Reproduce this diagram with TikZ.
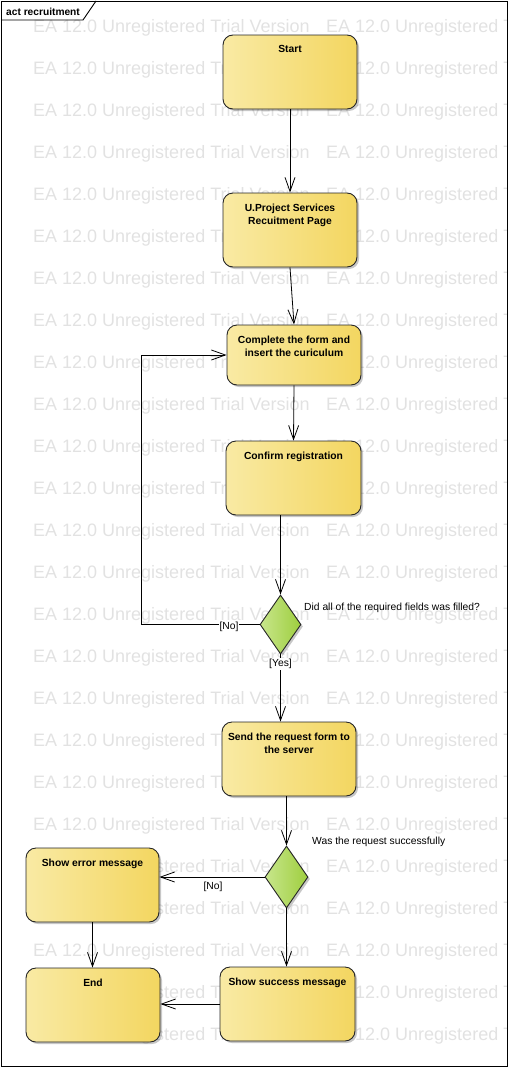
\documentclass[tikz,border=0pt]{standalone}
\usepackage{fontspec}
\setmainfont{Liberation Sans}
\usetikzlibrary{arrows.meta,shapes.geometric,shadows,calc}
\definecolor{ylL}{RGB}{249,234,164}
\definecolor{ylR}{RGB}{243,214,96}
\definecolor{grL}{RGB}{200,230,140}
\definecolor{grR}{RGB}{158,206,62}
\definecolor{wmgray}{RGB}{226,226,226}
\begin{document}
\begin{tikzpicture}[x=1pt,y=-1pt,
  act/.style={rectangle, rounded corners=10pt, draw=black!85, line width=0.9pt,
    left color=ylL, right color=ylR, minimum width=134pt, minimum height=74pt, inner sep=0pt,
    drop shadow={shadow xshift=2pt, shadow yshift=-2pt, opacity=0.22, fill=black}},
  dec/.style={diamond, draw=black!85, line width=0.9pt, left color=grL, right color=grR,
    inner sep=0pt, minimum width=41pt, minimum height=59pt,
    drop shadow={shadow xshift=2pt, shadow yshift=-2pt, opacity=0.22, fill=black}},
  lbl/.style={anchor=north, yshift=-11pt, inner sep=0pt, align=center,
    font=\fontsize{10.3}{13}\selectfont\bfseries},
  note/.style={inner sep=0pt, font=\fontsize{10.3}{12}\selectfont},
  arr/.style={draw=black, line width=0.8pt, -{Straight Barb[length=14pt,width=10pt]}},
  wm/.style={anchor=base west, inner sep=0pt, text=wmgray, font=\fontsize{18}{20}\selectfont},
]
\useasboundingbox (0,0) rectangle (508,1068);

% watermark
\begin{scope}
\clip (1,1) rectangle (507,1066);
\foreach \r in {0,...,24}{
  \node[wm] (wmA\r) at (33,{32+42*\r}) {EA 12.0 Unregistered Trial Version};
  \node[wm] (wmB\r) at (326,{32+42*\r}) {EA 12.0 Unregistered Trial Version};
}
\end{scope}

% frame
\node[draw=black, line width=0.9pt, minimum width=506pt, minimum height=1065pt,
  anchor=north west, inner sep=0pt] (frame) at (1,1) {};
\coordinate (tabA) at (1,20);
\coordinate (tabB) at (83,20);
\coordinate (tabC) at (96,1);
\draw[line width=0.9pt] (tabA) -- (tabB) -- (tabC);
\node[anchor=base west, inner sep=0pt, font=\fontsize{10.2}{12}\selectfont\bfseries] (title) at (6,15) {act recruitment};

% nodes
\node[act, label={[lbl]north:Start}] (start) at (290,72) {};
\node[act, label={[lbl]north:{U.Project Services\\Recuitment Page}}] (upj) at (290,230) {};
\node[act, minimum height=60pt, label={[lbl]north:{Complete the form and\\insert the curiculum}}] (complete) at (294,355) {};
\node[act, minimum width=135pt, label={[lbl]north:Confirm registration}] (confirm) at (293.5,478) {};
\node[dec] (d1) at (280.5,624.5) {};
\node[act, label={[lbl]north:{Send the request form to\\the server}}] (send) at (289,759) {};
\node[dec, minimum width=43pt, minimum height=62pt] (d2) at (286.5,877) {};
\node[act, minimum width=133pt, label={[lbl]north:Show error message}] (error) at (92.5,885) {};
\node[act, label={[lbl]north:End}] (endn) at (93,1005) {};
\node[act, minimum width=135pt, label={[lbl]north:Show success message}] (success) at (287.5,1004) {};

\node[note, anchor=west] (q1) at (304,608) {Did all of the required fields was filled?};
\node[note, anchor=west] (q2) at (312,842) {Was the request successfully};

% connectors
\draw[arr] (start.south) -- (upj.north);
\draw[arr] (upj.south) -- (complete.north);
\draw[arr] (complete.south) -- (confirm.north);
\draw[arr] (d1.north |- confirm.south) -- (d1.north);
\coordinate (loopx) at (141,355);
\draw[arr] (d1.west) -| (loopx) -- (complete.west);
\draw[arr] (d1.south) -- (d1.south |- send.north);
\draw[arr] (d2.north |- send.south) -- (d2.north);
\draw[arr] (d2.west) -- (d2.west -| error.east);
\draw[arr] (d2.south) -- (d2.south |- success.north);
\draw[arr] (error.south) -- (error.south |- endn.north);
\draw[arr] (success.west) -- (success.west -| endn.east);

\node[note, fill=white, inner sep=1pt] (no1) at (229,627) {[No]};
\node[note, fill=white, inner sep=1pt] (yes1) at (280.5,664) {[Yes]};
\node[note] (no2) at (213,887) {[No]};
\end{tikzpicture}
\end{document}
